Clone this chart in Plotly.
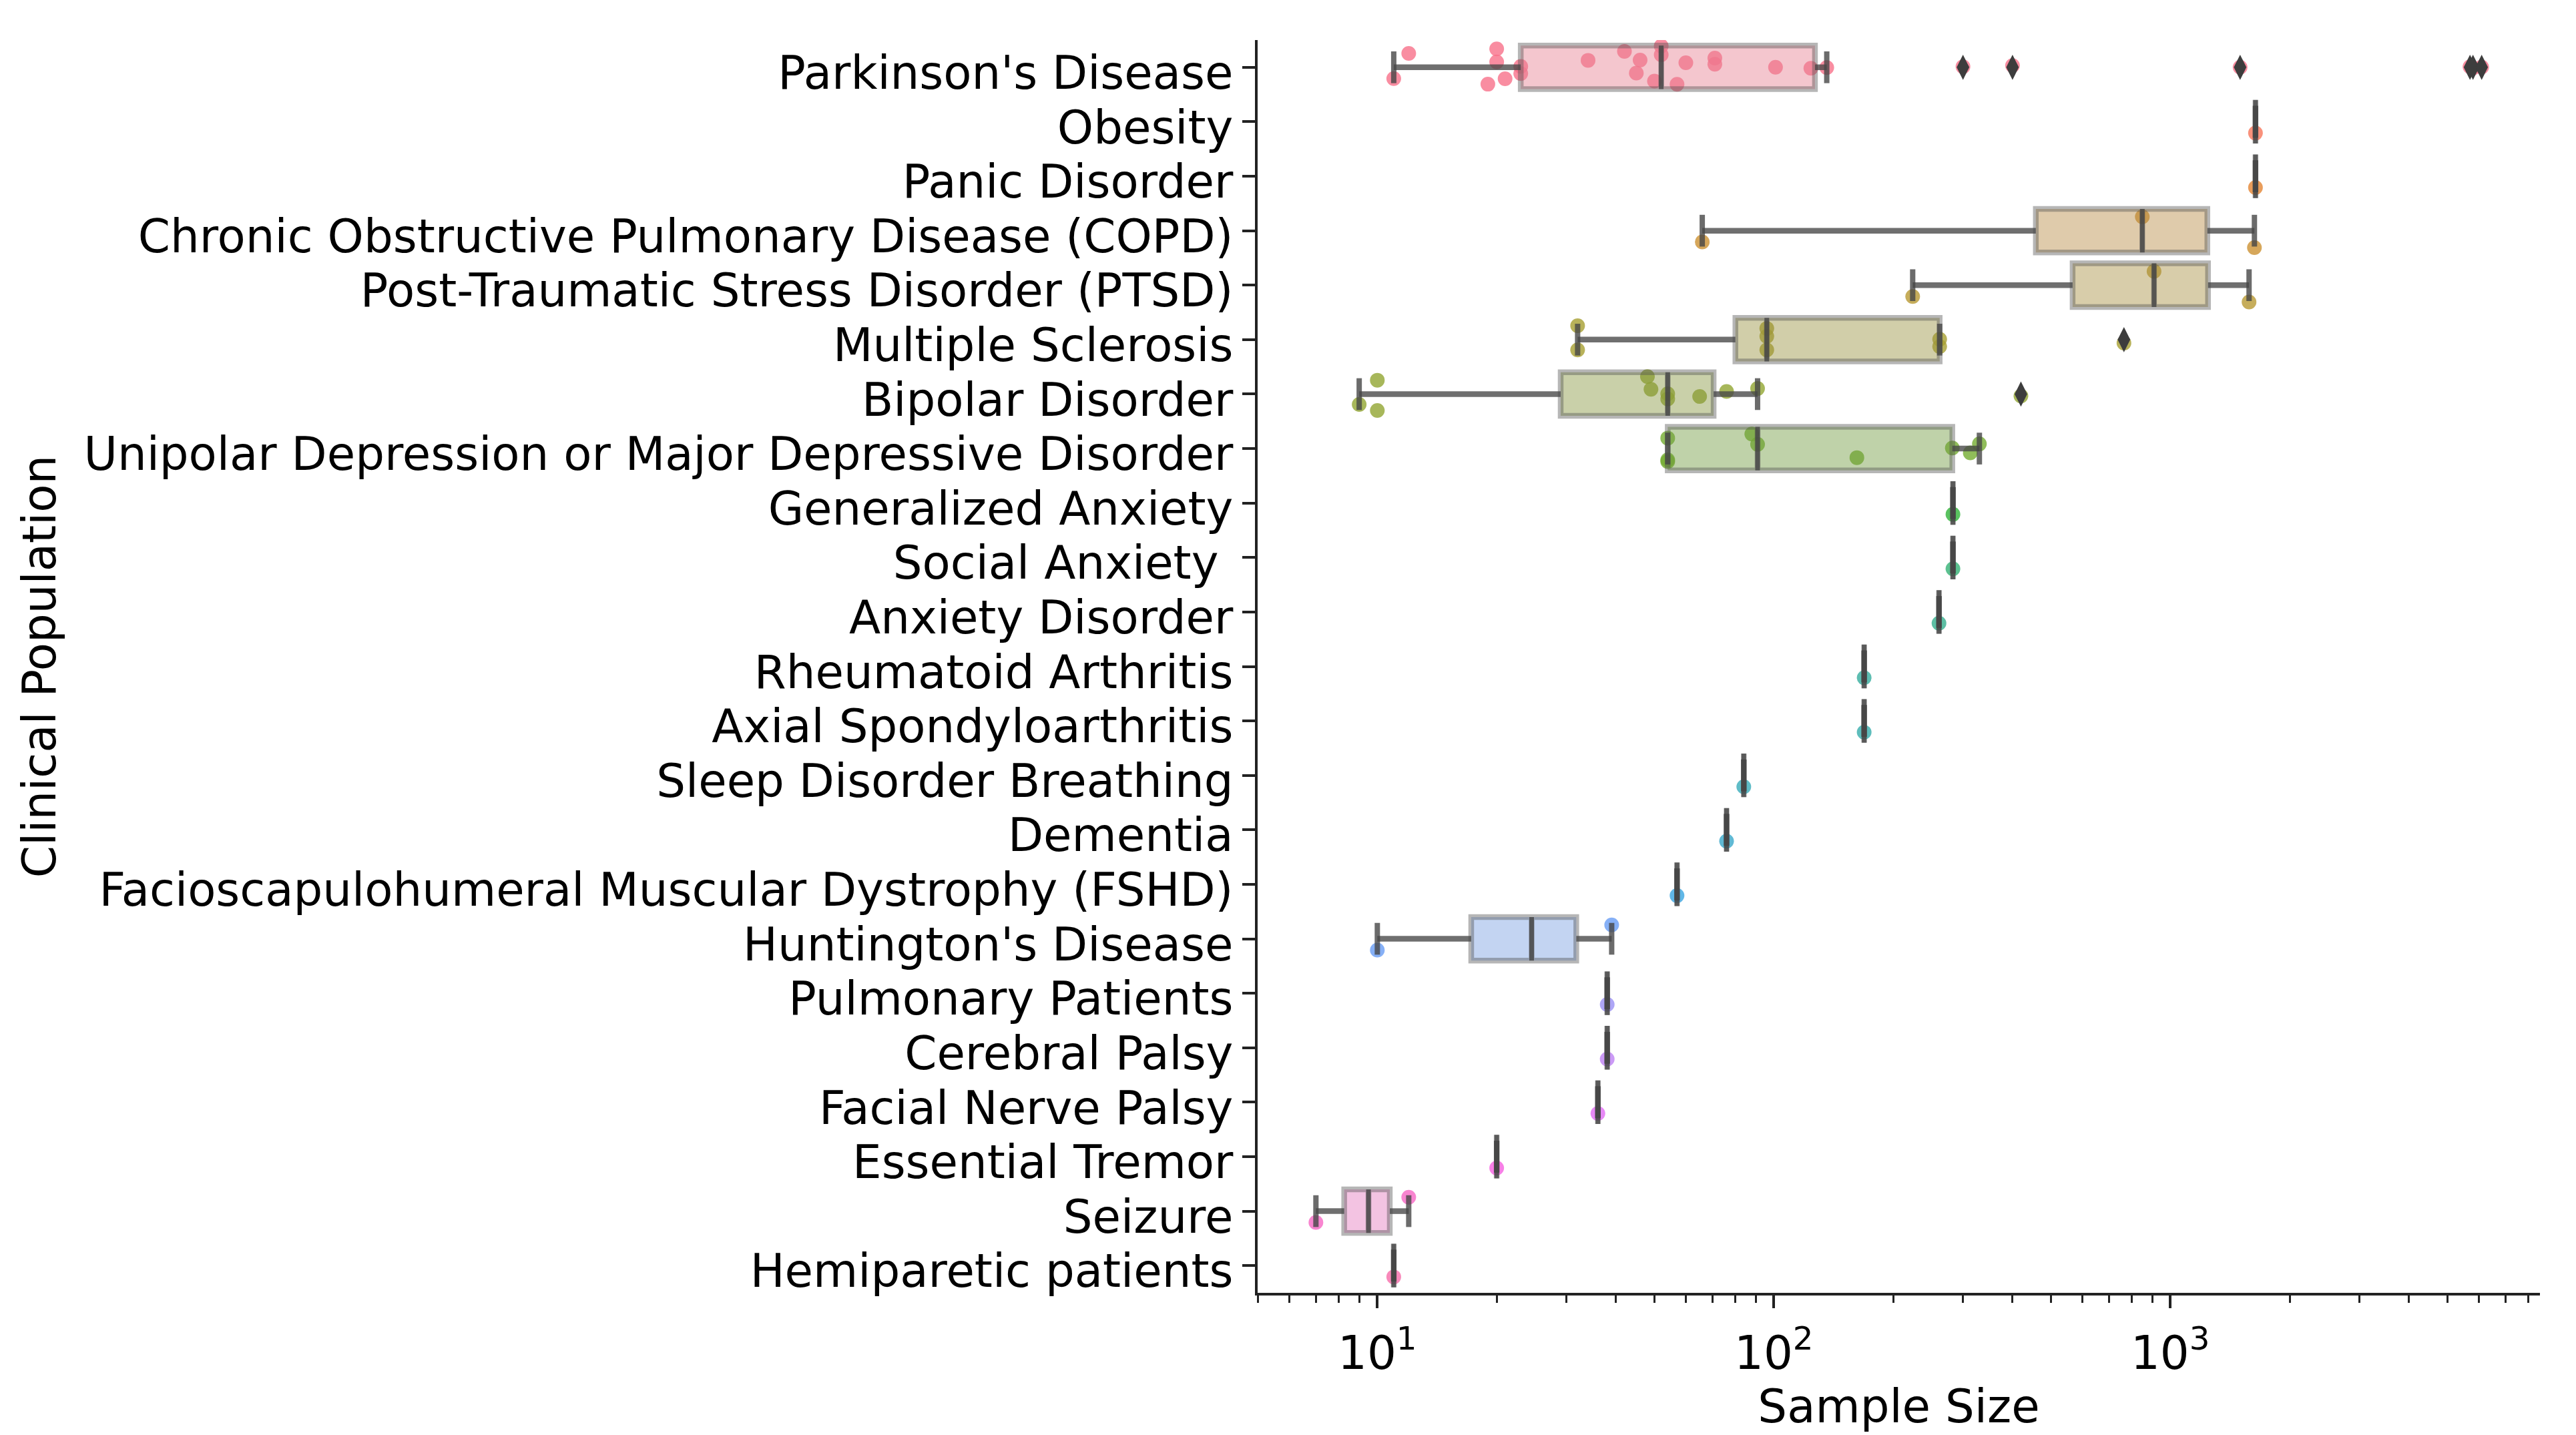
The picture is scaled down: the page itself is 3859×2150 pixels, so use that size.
import math
import colorsys
import numpy as np
import plotly.graph_objects as go

# ---------------- data ----------------
categories = [
    "Parkinson's Disease", "Obesity", "Panic Disorder",
    "Chronic Obstructive Pulmonary Disease (COPD)",
    "Post-Traumatic Stress Disorder (PTSD)", "Multiple Sclerosis",
    "Bipolar Disorder", "Unipolar Depression or Major Depressive Disorder",
    "Generalized Anxiety", "Social Anxiety\u00a0", "Anxiety Disorder",
    "Rheumatoid Arthritis", "Axial Spondyloarthritis", "Sleep Disorder Breathing",
    "Dementia", "Facioscapulohumeral Muscular Dystrophy (FSHD)",
    "Huntington's Disease", "Pulmonary Patients", "Cerebral Palsy",
    "Facial Nerve Palsy", "Essential Tremor", "Seizure", "Hemiparetic patients",
]

parkinsons = [11, 12, 19, 20, 20, 21, 23, 23, 34, 42, 45, 46, 50, 52, 52, 57,
              60, 71, 71, 101, 124, 136, 300, 400, 1500, 5700, 5800, 6100]
obesity = [1640]
panic = [1640]
copd = [66, 850, 1630]
ptsd = [224, 910, 1580]
multiple_sclerosis = [32, 32, 96, 96, 96, 262, 262, 764]
bipolar = [9, 10, 10, 48, 49, 54, 54, 65, 76, 91, 420]
unipolar = [54, 54, 54, 88, 91, 162, 282, 313, 330]
generalized_anxiety = [283]
social_anxiety = [283]
anxiety_disorder = [261]
rheumatoid = [169]
axial = [169]
sleep_breathing = [84]
dementia = [76]
fshd = [57]
huntington = [10, 39]
pulmonary = [38]
cerebral_palsy = [38]
facial_palsy = [36]
essential_tremor = [20]
seizure = [7, 12]
hemiparetic = [11]

series = [parkinsons, obesity, panic, copd, ptsd, multiple_sclerosis, bipolar,
          unipolar, generalized_anxiety, social_anxiety, anxiety_disorder,
          rheumatoid, axial, sleep_breathing, dementia, fshd, huntington,
          pulmonary, cerebral_palsy, facial_palsy, essential_tremor, seizure,
          hemiparetic]

x_tick_vals = [10, 100, 1000]
x_tick_text = ["10<sup>1</sup>", "10<sup>2</sup>", "10<sup>3</sup>"]

# ---------------- husl palette (as seaborn) ----------------
_m = [[3.240969941904521, -1.537383177570093, -0.498610760293],
      [-0.96924363628087, 1.87596750150772, 0.041555057407175],
      [0.055630079696993, -0.20397695888897, 1.056971514242878]]
_refX, _refY, _refZ = 0.95047, 1.0, 1.08883
_refU, _refV = 0.19784, 0.46834
_kappa, _eps = 903.3, 0.008856


def _max_chroma(L, H):
    hrad = math.radians(H)
    sinH, cosH = math.sin(hrad), math.cos(hrad)
    sub1 = (L + 16) ** 3 / 1560896.0
    sub2 = sub1 if sub1 > _eps else L / _kappa
    res = float("inf")
    for m1, m2, m3 in _m:
        top = (0.99915 * m1 + 1.05122 * m2 + 1.14460 * m3) * sub2
        rb = 0.86330 * m3 - 0.17266 * m2
        lb = 0.12949 * m3 - 0.38848 * m1
        bottom = (rb * sinH + lb * cosH) * sub2
        for t in (0.0, 1.0):
            C = L * (top - 1.05122 * t) / (bottom + 0.17266 * sinH * t)
            if 0 < C < res:
                res = C
    return res


def _f_inv(t):
    return _refY * t ** 3 if t ** 3 > _eps else _refY * (116 * t - 16) / _kappa


def _from_linear(c):
    return 12.92 * c if c <= 0.0031308 else 1.055 * c ** (1 / 2.4) - 0.055


def husl_to_rgb(h, s, l):
    C = _max_chroma(l, h) / 100.0 * s
    U, V = math.cos(math.radians(h)) * C, math.sin(math.radians(h)) * C
    varY = _f_inv((l + 16) / 116.0)
    varU = U / (13 * l) + _refU
    varV = V / (13 * l) + _refV
    Y = varY * _refY
    X = -(9 * Y * varU) / ((varU - 4) * varV - varU * varV)
    Z = (9 * Y - 15 * varV * Y - varV * X) / (3 * varV)
    return [min(1, max(0, _from_linear(r[0] * X + r[1] * Y + r[2] * Z))) for r in _m]


def husl_palette(n, h=0.01, s=0.9, l=0.65):
    hues = (np.linspace(0, 1, n + 1)[:-1] + h) % 1 * 359
    return [husl_to_rgb(hh, s * 99, l * 99) for hh in hues]


def desaturate(rgb, prop):
    hh, ll, ss = colorsys.rgb_to_hls(*rgb)
    return colorsys.hls_to_rgb(hh, ll, ss * prop)


def rgba(rgb, a):
    return "rgba(%d,%d,%d,%.3f)" % tuple([round(c * 255) for c in rgb] + [a])


palette = husl_palette(len(categories))

# ---------------- figure ----------------
FONT = "DejaVu Sans"
fig = go.Figure()

stats = []
for cat, vals in zip(categories, series):
    v = np.asarray(vals, dtype=float)
    q1, med, q3 = np.percentile(v, [25, 50, 75])
    iqr = q3 - q1
    lo = v[v >= q1 - 1.5 * iqr].min()
    hi = v[v <= q3 + 1.5 * iqr].max()
    out = v[(v < lo) | (v > hi)]
    stats.append((q1, med, q3, lo, hi, out))

# strip points (drawn first, under the boxes)
for cat, vals, col in zip(categories, series, palette):
    fig.add_trace(go.Box(
        x=vals, y=[cat] * len(vals), orientation="h",
        boxpoints="all", jitter=1.0, pointpos=0, width=0.8,
        fillcolor="rgba(0,0,0,0)", line=dict(width=0, color="rgba(0,0,0,0)"),
        whiskerwidth=0,
        marker=dict(color=rgba(col, 1), size=22, opacity=0.8),
        showlegend=False, hoverinfo="skip"))

# box bodies
for cat, col, (q1, med, q3, lo, hi, out) in zip(categories, palette, stats):
    fig.add_trace(go.Box(
        y=[cat], q1=[q1], median=[med], q3=[q3], lowerfence=[q1], upperfence=[q3],
        orientation="h", width=0.8, whiskerwidth=0,
        fillcolor=rgba(desaturate(col, 0.75), 0.45),
        line=dict(color="rgba(80,80,80,0.42)", width=8.5),
        boxpoints=False, showlegend=False, hoverinfo="skip"))

# median lines
for cat, (q1, med, q3, lo, hi, out) in zip(categories, stats):
    fig.add_trace(go.Box(
        y=[cat], q1=[med], median=[med], q3=[med], lowerfence=[med], upperfence=[med],
        orientation="h", width=0.8, whiskerwidth=0,
        fillcolor="rgba(0,0,0,0)",
        line=dict(color="rgba(70,70,70,0.82)", width=7),
        boxpoints=False, showlegend=False, hoverinfo="skip"))

# whiskers, caps and outliers
wx, wy, cx, cy, ox, oy = [], [], [], [], [], []
for cat, (q1, med, q3, lo, hi, out) in zip(categories, stats):
    wx += [lo, q1, None, q3, hi, None]
    wy += [cat, cat, None, cat, cat, None]
    cx += [lo, hi]
    cy += [cat, cat]
    ox += list(out)
    oy += [cat] * len(out)

fig.add_trace(go.Scatter(x=wx, y=wy, mode="lines",
                         line=dict(color="rgba(70,70,70,0.78)", width=8.5),
                         showlegend=False, hoverinfo="skip"))
fig.add_trace(go.Scatter(x=cx, y=cy, mode="markers",
                         marker=dict(symbol="line-ns", size=34,
                                     line=dict(color="rgba(70,70,70,0.8)", width=8)),
                         showlegend=False, hoverinfo="skip"))
fig.add_trace(go.Scatter(x=ox, y=oy, mode="markers",
                         marker=dict(symbol="diamond-tall", size=27, color="#3d3d3d",
                                     line=dict(width=0)),
                         showlegend=False, hoverinfo="skip"))

# axis range like matplotlib autoscale (5% margin in log space)
all_vals = np.concatenate([np.asarray(s, float) for s in series])
lmin, lmax = np.log10(all_vals.min()), np.log10(all_vals.max())
pad = 0.05 * (lmax - lmin)
xr = [lmin - pad, lmax + pad]
minor_vals = [m * 10 ** e for e in range(0, 5) for m in range(2, 10)
              if xr[0] <= math.log10(m * 10 ** e) <= xr[1]]

fig.update_layout(
    width=3859, height=2150,
    margin=dict(l=1884, r=54, t=60, b=213),
    paper_bgcolor="white", plot_bgcolor="white",
    boxmode="overlay", showlegend=False,
    font=dict(family=FONT, size=69, color="black"),
    xaxis=dict(
        type="log", range=xr, showgrid=False, zeroline=False,
        showline=True, linecolor="#222222", linewidth=3.5,
        ticks="outside", ticklen=19, tickwidth=3.5, tickcolor="#222222",
        tickmode="array", tickvals=x_tick_vals, ticktext=x_tick_text,
        ticklabelstandoff=8,
        tickfont=dict(family=FONT, size=69, color="black"),
        minor=dict(ticks="outside", ticklen=11, tickwidth=2.5, tickcolor="#222222",
                   tickmode="array", tickvals=minor_vals, showgrid=False),
        title=dict(text="Sample Size", font=dict(family=FONT, size=69, color="black"),
                   standoff=0),
    ),
    yaxis=dict(
        type="category", categoryorder="array", categoryarray=categories,
        tickmode="array", tickvals=categories, ticktext=categories,
        ticklabelshift=-8,
        range=[len(categories) - 0.5, -0.5], showgrid=False, zeroline=False,
        showline=True, linecolor="#222222", linewidth=3.5,
        ticks="outside", ticklen=19, tickwidth=3.5, tickcolor="#222222",
        tickfont=dict(family=FONT, size=69, color="black"),
        title=dict(text="Clinical Population",
                   font=dict(family=FONT, size=69, color="black"), standoff=20),
    ),
)

fig.write_html("out.html", config={"displayModeBar": False},
               post_script="document.body.style.margin='0';document.body.style.overflow='hidden';")
